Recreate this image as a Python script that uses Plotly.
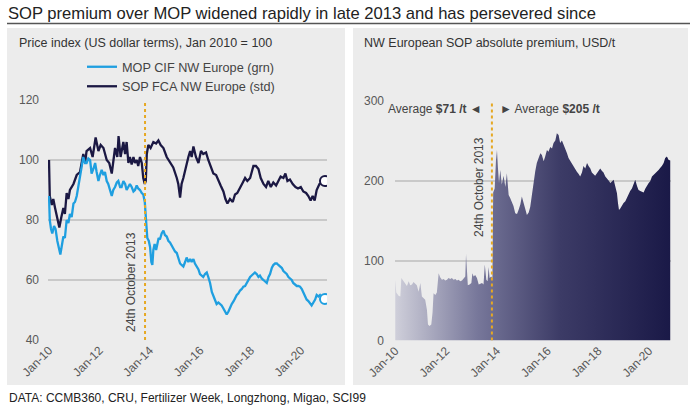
import plotly.graph_objects as go

W, H = 699, 406

# ---------------- DATA ----------------
sop_t = [2010.00, 2010.03, 2010.11, 2010.17, 2010.24, 2010.33, 2010.41, 2010.49, 2010.57, 2010.63,
         2010.70, 2010.77, 2010.83, 2010.97, 2011.10, 2011.23, 2011.36, 2011.43, 2011.49, 2011.63,
         2011.73, 2011.85, 2011.96, 2012.05, 2012.16, 2012.29, 2012.39, 2012.49, 2012.55, 2012.62,
         2012.71, 2012.76, 2012.84, 2012.95, 2013.02, 2013.08, 2013.15, 2013.21, 2013.28, 2013.35,
         2013.41, 2013.48, 2013.54, 2013.61, 2013.68, 2013.74, 2013.80, 2013.84, 2013.88, 2013.94,
         2014.03, 2014.14, 2014.25, 2014.34, 2014.43, 2014.54, 2014.67, 2014.80, 2014.93, 2015.07,
         2015.13, 2015.20, 2015.26, 2015.33, 2015.46, 2015.53, 2015.60, 2015.66, 2015.73, 2015.83,
         2015.93, 2016.03, 2016.12, 2016.23, 2016.32, 2016.42, 2016.52, 2016.63, 2016.72, 2016.81,
         2016.92, 2017.00, 2017.08, 2017.18, 2017.29, 2017.38, 2017.47, 2017.58, 2017.69, 2017.78,
         2017.87, 2017.98, 2018.06, 2018.11, 2018.21, 2018.31, 2018.40, 2018.51, 2018.61, 2018.70,
         2018.80, 2018.90, 2019.01, 2019.10, 2019.19, 2019.30, 2019.38, 2019.46, 2019.56, 2019.67,
         2019.78, 2019.88, 2019.99, 2020.09, 2020.20, 2020.29, 2020.38, 2020.46, 2020.54, 2020.62,
         2020.73, 2020.83, 2020.95]
sop_v = [100, 88, 85, 87, 84, 81, 77.5, 81, 84, 82,
         89, 87, 90, 92, 95, 96, 102, 99, 103, 104,
         101, 107.5, 103, 105, 104, 100, 99, 95.5, 99, 104,
         101, 108, 101, 106, 102, 106, 99, 101, 98.5, 101,
         99, 100, 98, 101, 99, 94, 92, 93, 102, 105,
         104, 106, 105.5, 106.5, 105, 104, 101, 99, 97.5, 94,
         92, 87.5, 92, 94, 99, 101, 103, 101, 104.5, 101,
         99, 103, 102, 102.5, 100, 98, 95.5, 95, 93, 91.5,
         89.5, 87, 85.5, 87, 86, 88.5, 89, 91, 92.5, 94,
         93, 94, 96, 98, 98, 97, 94, 92, 91, 93,
         91, 92.5, 91.5, 93, 94.5, 94, 95.5, 93, 93.5, 92,
         91, 90.5, 91, 89.5, 89, 88, 86.5, 88, 86.5, 90,
         92, 92.5, 93]

mop_t = [2010.00, 2010.03, 2010.08, 2010.13, 2010.20, 2010.26, 2010.33, 2010.40, 2010.45, 2010.52,
         2010.57, 2010.63, 2010.70, 2010.77, 2010.83, 2010.90, 2010.97, 2011.03, 2011.10, 2011.16,
         2011.23, 2011.30, 2011.36, 2011.43, 2011.49, 2011.56, 2011.63, 2011.69, 2011.76, 2011.83,
         2011.89, 2011.96, 2012.02, 2012.09, 2012.16, 2012.22, 2012.29, 2012.35, 2012.42, 2012.49,
         2012.55, 2012.62, 2012.69, 2012.75, 2012.82, 2012.88, 2012.95, 2013.02, 2013.08, 2013.15,
         2013.21, 2013.28, 2013.35, 2013.41, 2013.48, 2013.54, 2013.61, 2013.68, 2013.74, 2013.80,
         2013.84, 2013.86, 2013.90, 2013.96, 2014.01, 2014.06, 2014.10, 2014.14, 2014.19, 2014.25,
         2014.30, 2014.35, 2014.40, 2014.47, 2014.54, 2014.60, 2014.67, 2014.74, 2014.80, 2014.87,
         2014.93, 2015.00, 2015.07, 2015.13, 2015.20, 2015.26, 2015.33, 2015.40, 2015.46, 2015.53,
         2015.60, 2015.66, 2015.73, 2015.79, 2015.86, 2015.93, 2015.99, 2016.06, 2016.12, 2016.19,
         2016.26, 2016.32, 2016.39, 2016.46, 2016.52, 2016.59, 2016.65, 2016.72, 2016.79, 2016.85,
         2016.92, 2016.98, 2017.05, 2017.12, 2017.18, 2017.25, 2017.33, 2017.38, 2017.45, 2017.51,
         2017.58, 2017.65, 2017.71, 2017.78, 2017.84, 2017.91, 2017.98, 2018.04, 2018.11, 2018.17,
         2018.24, 2018.31, 2018.37, 2018.44, 2018.51, 2018.57, 2018.64, 2018.71, 2018.77, 2018.84,
         2018.90, 2018.97, 2019.04, 2019.10, 2019.17, 2019.24, 2019.30, 2019.37, 2019.43, 2019.50,
         2019.56, 2019.63, 2019.69, 2019.76, 2019.83, 2019.89, 2019.96, 2020.03, 2020.09, 2020.16,
         2020.22, 2020.29, 2020.36, 2020.42, 2020.49, 2020.56, 2020.62, 2020.69, 2020.75, 2020.82,
         2020.88, 2020.95]
mop_v = [88, 80, 77, 75.5, 78, 77, 73, 70, 68.5, 72,
         74.5, 74, 80, 79, 82, 81, 85.5, 86, 88, 91,
         94, 98, 101, 99, 99, 100.5, 100, 95.5, 97, 99,
         96, 93, 95, 96.7, 95, 96, 93, 92, 90, 88,
         90, 91, 92.5, 93, 91, 91, 93, 92, 90, 91,
         92, 91, 89.5, 90, 91.5, 90.5, 90, 89, 88.5, 86,
         81, 76, 74, 73, 71, 66, 65, 70, 72, 70,
         72.5, 74, 73.5, 75.5, 76.5, 75, 74.5, 73, 72.5, 71.5,
         70.5, 69.5, 69, 67, 65.5, 65, 64.5, 66, 67.5, 66,
         67, 66, 67, 65.5, 64.5, 63.5, 62, 61.5, 61, 62,
         62.5, 61, 59, 56, 54.5, 53, 52, 52.5, 52, 51.5,
         50.5, 49.5, 48.5, 49.5, 51, 52, 53, 54, 55, 55.5,
         56.5, 57, 57.8, 58, 59, 60, 61, 61.5, 62, 62.5,
         62, 61, 61.5, 60.5, 60, 59.5, 59, 61, 62, 64,
         65, 65.5, 65.5, 65, 64.5, 64, 63, 62.5, 62, 61,
         60.5, 60, 59, 58.5, 58, 58, 57.8, 57, 56, 54.5,
         53.5, 53, 52, 51.5, 52.5, 53.5, 55, 54.5, 55, 54,
         54.5, 53.7]

prem_t = [2010.00, 2010.04, 2010.13, 2010.20, 2010.24, 2010.33, 2010.39, 2010.46, 2010.53, 2010.59,
          2010.66, 2010.72, 2010.79, 2010.85, 2010.92, 2010.99, 2011.05, 2011.12, 2011.18, 2011.25,
          2011.29, 2011.35, 2011.42, 2011.47, 2011.51, 2011.58, 2011.64, 2011.71, 2011.77, 2011.84,
          2011.91, 2011.97, 2012.04, 2012.10, 2012.17, 2012.23, 2012.30, 2012.37, 2012.43, 2012.50,
          2012.56, 2012.63, 2012.69, 2012.76, 2012.79, 2012.83, 2012.86, 2012.93, 2013.00, 2013.04,
          2013.09, 2013.15, 2013.22, 2013.29, 2013.35, 2013.42, 2013.48, 2013.53, 2013.59, 2013.64,
          2013.68, 2013.72, 2013.78, 2013.83, 2013.86, 2013.92, 2013.97, 2014.01, 2014.05, 2014.09,
          2014.14, 2014.20, 2014.27, 2014.34, 2014.40, 2014.47, 2014.53, 2014.60, 2014.66, 2014.73,
          2014.80, 2014.86, 2014.93, 2014.99, 2015.06, 2015.12, 2015.19, 2015.26, 2015.32, 2015.39,
          2015.45, 2015.52, 2015.58, 2015.65, 2015.72, 2015.78, 2015.85, 2015.91, 2015.98, 2016.04,
          2016.11, 2016.18, 2016.24, 2016.31, 2016.37, 2016.44, 2016.50, 2016.57, 2016.64, 2016.70,
          2016.77, 2016.83, 2016.90, 2016.96, 2017.03, 2017.10, 2017.16, 2017.23, 2017.29, 2017.36,
          2017.42, 2017.49, 2017.56, 2017.62, 2017.69, 2017.75, 2017.82, 2017.88, 2017.95, 2018.02,
          2018.08, 2018.15, 2018.21, 2018.28, 2018.34, 2018.41, 2018.48, 2018.54, 2018.61, 2018.67,
          2018.74, 2018.78, 2018.82, 2018.87, 2018.94, 2019.00, 2019.07, 2019.13, 2019.20, 2019.26,
          2019.33, 2019.39, 2019.46, 2019.53, 2019.59, 2019.66, 2019.72, 2019.79, 2019.86, 2019.92,
          2019.99, 2020.05, 2020.12, 2020.18, 2020.25, 2020.32, 2020.38, 2020.45, 2020.51, 2020.58,
          2020.64, 2020.71, 2020.77, 2020.84]
prem_v = [76, 60, 56, 55, 78, 74, 72, 68, 74, 69,
          70, 73, 71, 69, 61, 72, 55, 53, 51, 38,
          20, 18, 20, 35, 59, 57, 60, 84, 79, 76,
          77, 75, 76, 78, 77, 78, 76, 77, 75, 76,
          74, 75, 77, 80, 108, 80, 69, 70, 72, 84,
          80, 82, 78, 70, 71, 72, 70, 95, 76, 74,
          92, 78, 80, 78, 185, 190, 225, 238, 215, 197,
          213, 195, 206, 192, 209, 182, 178, 172, 168, 159,
          158, 163, 170, 180, 170, 165, 157, 160, 167, 185,
          201, 212, 222, 228, 234, 232, 224, 230, 238, 236,
          242, 240, 247, 250, 259, 257, 247, 250, 245, 240,
          234, 228, 224, 222, 218, 214, 211, 208, 205, 210,
          218, 215, 222, 218, 215, 210, 207, 206, 209, 212,
          215, 212, 210, 205, 202, 200, 197, 199, 201, 193,
          184, 172, 163, 165, 170, 172, 174, 178, 184, 187,
          190, 195, 201, 193, 188, 187, 186, 185, 190, 194,
          197, 199, 205, 207, 209, 211, 213, 216, 218, 222,
          228, 230, 226, 225]

change_date = 2013.81
tick_years = [2010, 2012, 2014, 2016, 2018, 2020]
tick_labels = ["Jan-10", "Jan-12", "Jan-14", "Jan-16", "Jan-18", "Jan-20"]
left_ticks = [40, 60, 80, 100, 120]
right_ticks = [0, 100, 200, 300]

# ---------------- STYLE ----------------
FONT = "Arial, Liberation Sans, Helvetica, sans-serif"
NAVY = "#1b1843"
SKY = "#1f9fe0"
GOLD = "#e6a823"
PANEL = "#ececec"
GRID = "#c9c9c9"
TICK = "#595959"


def px(x):
    return x / W


def py(y):
    return 1 - y / H


fig = go.Figure()

# left panel lines
fig.add_trace(go.Scatter(x=sop_t, y=sop_v, mode="lines", name="SOP FCA NW Europe (std)",
                         line=dict(color=NAVY, width=2.3), legendrank=2,
                         xaxis="x", yaxis="y"))
fig.add_trace(go.Scatter(x=mop_t, y=mop_v, mode="lines", name="MOP CIF NW Europe (grn)",
                         line=dict(color=SKY, width=2.3), legendrank=1,
                         xaxis="x", yaxis="y"))
# end markers
fig.add_trace(go.Scatter(x=[sop_t[-1]], y=[sop_v[-1]], mode="markers", showlegend=False,
                         marker=dict(size=10, color="white", line=dict(color=NAVY, width=2)),
                         xaxis="x", yaxis="y"))
fig.add_trace(go.Scatter(x=[mop_t[-1]], y=[mop_v[-1]], mode="markers", showlegend=False,
                         marker=dict(size=10, color="white", line=dict(color=SKY, width=2)),
                         xaxis="x", yaxis="y"))

# right panel area with horizontal gradient
fig.add_trace(go.Scatter(x=prem_t, y=prem_v, mode="lines", fill="tozeroy", showlegend=False,
                         line=dict(width=0, color=NAVY),
                         fillgradient=dict(type="horizontal",
                                           colorscale=[[0, "#cfcfda"], [0.3, "#77779a"],
                                                       [0.6, "#3c3b66"], [1, "#1a1947"]]),
                         xaxis="x2", yaxis="y2"))

shapes = [
    # panels
    dict(type="rect", xref="paper", yref="paper", x0=px(7), x1=px(345), y0=py(385), y1=py(28),
         fillcolor=PANEL, line=dict(width=0), layer="below"),
    dict(type="rect", xref="paper", yref="paper", x0=px(353), x1=px(688), y0=py(385), y1=py(28),
         fillcolor=PANEL, line=dict(width=0), layer="below"),
    # title underline
    dict(type="line", xref="paper", yref="paper", x0=px(7), x1=px(690), y0=py(23.5), y1=py(23.5),
         line=dict(color="#555555", width=1.3)),
    # dashed event lines
    dict(type="line", xref="x", yref="y", x0=change_date, x1=change_date, y0=40, y1=120,
         line=dict(color=GOLD, width=2, dash="3px,3px"), layer="above"),
    dict(type="line", xref="x2", yref="y2", x0=change_date, x1=change_date, y0=0, y1=300,
         line=dict(color=GOLD, width=2, dash="3px,3px"), layer="above"),
]

annotations = [
    dict(text="SOP premium over MOP widened rapidly in late 2013 and has persevered since",
         xref="paper", yref="paper", x=px(6), y=py(13), xanchor="left", yanchor="middle",
         showarrow=False, font=dict(family=FONT, size=16.6, color="#222222")),
    dict(text="Price index (US dollar terms), Jan 2010 = 100",
         xref="paper", yref="paper", x=px(17), y=py(43), xanchor="left", yanchor="middle",
         showarrow=False, font=dict(family=FONT, size=12.5, color="#333333")),
    dict(text="NW European SOP absolute premium, USD/t",
         xref="paper", yref="paper", x=px(362), y=py(43), xanchor="left", yanchor="middle",
         showarrow=False, font=dict(family=FONT, size=12.5, color="#333333")),
    dict(text="24th October 2013", textangle=-90,
         xref="paper", yref="paper", x=px(131), y=py(282), xanchor="center", yanchor="middle",
         showarrow=False, font=dict(family=FONT, size=12, color="#444444")),
    dict(text="24th October 2013", textangle=-90,
         xref="paper", yref="paper", x=px(479), y=py(187), xanchor="center", yanchor="middle",
         showarrow=False, font=dict(family=FONT, size=12, color="#444444")),
    dict(text="Average <b>$71 /t</b> ◄",
         xref="x2", yref="y2", x=change_date, y=300, xshift=-8, yshift=-9,
         xanchor="right", yanchor="middle",
         showarrow=False, font=dict(family=FONT, size=12, color="#444444")),
    dict(text="► Average <b>$205 /t</b>",
         xref="x2", yref="y2", x=change_date, y=300, xshift=6, yshift=-9,
         xanchor="left", yanchor="middle",
         showarrow=False, font=dict(family=FONT, size=12, color="#444444")),
    dict(text="DATA: CCMB360, CRU, Fertilizer Week, Longzhong, Migao, SCI99",
         xref="paper", yref="paper", x=px(7), y=py(398), xanchor="left", yanchor="middle",
         showarrow=False, font=dict(family=FONT, size=12, color="#222222")),
]

axis_common = dict(showline=False, zeroline=False, ticks="", automargin=False,
                   tickfont=dict(family=FONT, size=12, color=TICK))

fig.update_layout(
    width=W, height=H,
    margin=dict(l=0, r=0, t=0, b=0, autoexpand=False),
    paper_bgcolor="white", plot_bgcolor="rgba(0,0,0,0)",
    font=dict(family=FONT),
    shapes=shapes, annotations=annotations,
    showlegend=True,
    legend=dict(x=px(82), y=py(52), xanchor="left", yanchor="top",
                bgcolor="rgba(0,0,0,0)", borderwidth=0,
                font=dict(family=FONT, size=12.7, color="#444444"),
                tracegroupgap=0, itemwidth=30),
    xaxis=dict(domain=[px(48), px(327)], range=[2009.96, 2021.03], anchor="y",
               tickvals=tick_years, ticktext=tick_labels, tickangle=-45, showgrid=False,
               **axis_common),
    yaxis=dict(domain=[py(340), py(100)], range=[40, 120], anchor="x",
               tickvals=left_ticks, showgrid=True, gridcolor=GRID, gridwidth=1.5,
               ticklabelstandoff=8, **axis_common),
    xaxis2=dict(domain=[px(395), px(671)], range=[2009.99, 2020.87], anchor="y2",
                tickvals=tick_years, ticktext=tick_labels, tickangle=-45, showgrid=False,
                **axis_common),
    yaxis2=dict(domain=[py(340.5), py(100.5)], range=[0, 300], anchor="x2",
                tickvals=right_ticks, showgrid=True, gridcolor=GRID, gridwidth=1.5,
                ticklabelstandoff=10, **axis_common),
)

fig.write_html("out.html", config={"displayModeBar": False},
               post_script="document.body.style.margin='0';document.body.style.padding='0';"
                           "document.body.style.overflow='hidden';")
